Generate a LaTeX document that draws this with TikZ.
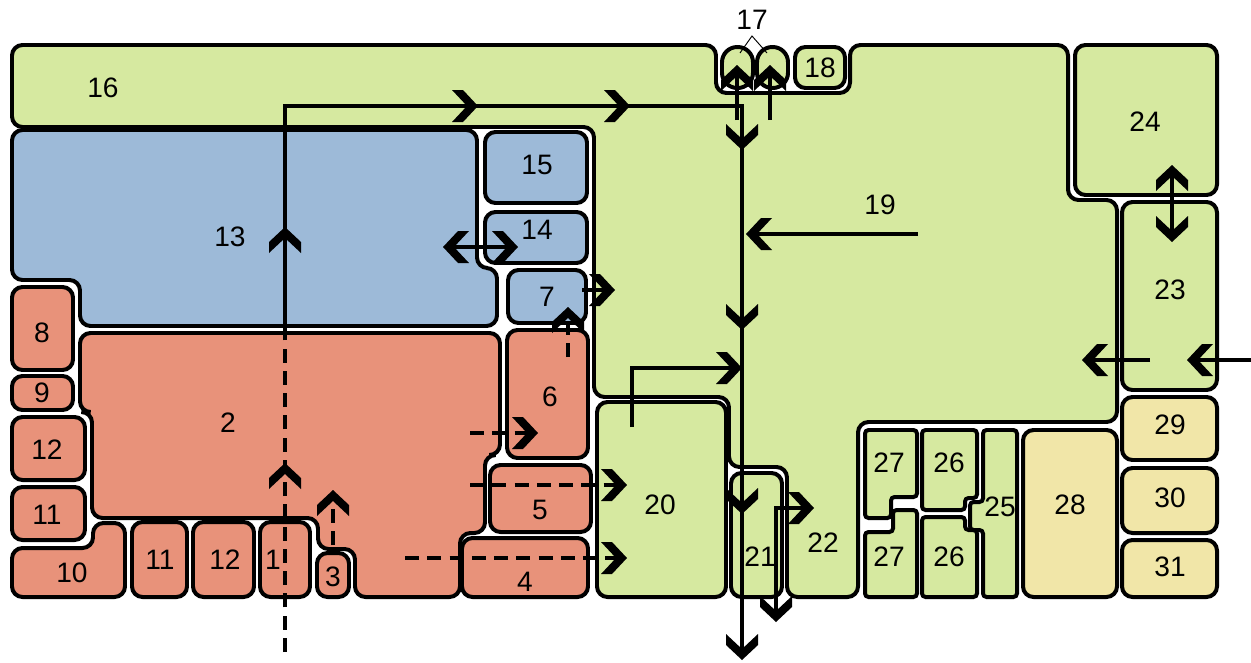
\documentclass[tikz,border=0pt]{standalone}
\usepackage{fontspec}
\setmainfont{Liberation Sans}
\usetikzlibrary{arrows.meta}
\definecolor{grn}{RGB}{214,233,160}
\definecolor{blu}{RGB}{157,186,216}
\definecolor{sal}{RGB}{232,146,122}
\definecolor{sand}{RGB}{241,230,168}
\tikzset{
  room/.style={draw=black,line width=3.4pt,rounded corners=9pt},
  flowline/.style={draw=black,line width=3pt},
  dashline/.style={flowline,dash pattern=on 12pt off 7pt},
  chev/.pic={\fill[black,line join=miter] (0,0) -- (-15,-16) -- (-26,-16) -- (-11,0) -- (-26,16) -- (-15,16) -- cycle;},
}
\begin{document}
\begin{tikzpicture}[x=0.03cm,y=-0.03cm,font=\fontsize{24}{28}\selectfont]
\useasboundingbox (0,0) rectangle (1251,662);
% green block 16, 19, 22
\draw[room,fill=grn] (12,45) -- (716,45) -- (716,93) -- (850,93) -- (850,45) -- (1068,45) -- (1068,200)
  -- (1117,200) -- (1117,422) -- (858,422) -- (858,597) -- (787,597) -- (787,467) -- (729,467)
  -- (729,397) -- (594,397) -- (594,127) -- (12,127) -- cycle;
% blue rooms
\draw[room,fill=blu] (12,130) -- (477,130) -- (477,268) -- (497,268) -- (497,326) -- (80,326) -- (80,280) -- (12,280) -- cycle;
\draw[room,fill=blu] (485,132) rectangle (587,203);
\draw[room,fill=blu] (485,212) rectangle (587,263);
\draw[room,fill=blu] (508,270) rectangle (586,323);
% salmon rooms
\draw[room,fill=sal] (80,333) -- (500,333) -- (500,455) -- (485,455) -- (485,533) -- (460,533) -- (460,597)
  -- (355,597) -- (355,549) -- (318,549) -- (318,518) -- (92,518) -- (92,412) -- (80,412) -- cycle;
\draw[room,fill=sal] (12,287) rectangle (73,370);
\draw[room,fill=sal] (12,376) rectangle (73,410);
\draw[room,fill=sal] (12,417) rectangle (85,480);
\draw[room,fill=sal] (12,487) rectangle (85,540);
\draw[room,fill=sal] (12,548) -- (93,548) -- (93,523) -- (125,523) -- (125,597) -- (12,597) -- cycle;
\draw[room,fill=sal] (132,522) rectangle (187,597);
\draw[room,fill=sal] (193,522) rectangle (254,597);
\draw[room,fill=sal] (260,522) rectangle (310,597);
\draw[room,fill=sal] (317,553) rectangle (349,597);
\draw[room,fill=sal] (462,538) rectangle (588,597);
\draw[room,fill=sal] (490,465) rectangle (591,532);
\draw[room,fill=sal] (507,330) rectangle (588,458);
% green rooms
\draw[room,fill=grn,rounded corners=13pt] (722,47) rectangle (753,88);
\draw[room,fill=grn,rounded corners=13pt] (757,47) rectangle (788,88);
\draw[room,fill=grn] (795,47) rectangle (845,88);
\draw[room,fill=grn] (597,402) rectangle (726,597);
\draw[room,fill=grn] (731,473) rectangle (782,597);
\draw[room,fill=grn] (1075,45) rectangle (1217,195);
\draw[room,fill=grn] (1122,202) rectangle (1217,390);
\draw[room,fill=grn,rounded corners=3pt] (865,430) -- (917,430) -- (917,497) -- (891,497) -- (891,518) -- (865,518) -- cycle;
\draw[room,fill=grn,rounded corners=3pt] (865,532) -- (893,532) -- (893,510) -- (917,510) -- (917,597) -- (865,597) -- cycle;
\draw[room,fill=grn,rounded corners=3pt] (922,430) -- (977,430) -- (977,498) -- (965,498) -- (965,510) -- (922,510) -- cycle;
\draw[room,fill=grn,rounded corners=3pt] (922,517) -- (965,517) -- (965,530) -- (977,530) -- (977,597) -- (922,597) -- cycle;
\draw[room,fill=grn,rounded corners=3pt] (983,430) -- (1017,430) -- (1017,597) -- (983,597) -- (983,530) -- (970,530) -- (970,502) -- (983,502) -- cycle;
% sand rooms
\draw[room,fill=sand] (1023,430) rectangle (1117,597);
\draw[room,fill=sand] (1122,397) rectangle (1217,460);
\draw[room,fill=sand] (1122,468) rectangle (1217,533);
\draw[room,fill=sand] (1122,540) rectangle (1217,597);
% labels
\node (r1) at (273,560) {1};
\node (r2) at (228,423) {2};
\node (r3) at (333,577) {3};
\node (r4) at (525,582) {4};
\node (r5) at (540,510) {5};
\node (r6) at (550,397) {6};
\node (r7) at (547,297) {7};
\node (r8) at (42,333) {8};
\node (r9) at (42,393) {9};
\node (r10) at (72,573) {10};
\node (r11a) at (47,515) {11};
\node (r11b) at (160,560) {11};
\node (r12a) at (47,450) {12};
\node (r12b) at (225,560) {12};
\node (r13) at (230,237) {13};
\node (r14) at (537,230) {14};
\node (r15) at (537,165) {15};
\node (r16) at (103,88) {16};
\node (r17) at (752,20) {17};
\node (r18) at (820,68) {18};
\node (r19) at (880,205) {19};
\node (r20) at (660,505) {20};
\node (r21) at (760,557) {21};
\node (r22) at (823,543) {22};
\node (r23) at (1170,290) {23};
\node (r24) at (1145,122) {24};
\node (r25) at (1000,507) {25};
\node (r26a) at (949,463) {26};
\node (r26b) at (949,557) {26};
\node (r27a) at (889,463) {27};
\node (r27b) at (889,557) {27};
\node (r28) at (1070,505) {28};
\node (r29) at (1170,425) {29};
\node (r30) at (1170,498) {30};
\node (r31) at (1170,567) {31};
\draw[line width=0.8pt] (740,53) -- (752,36) -- (767,53);
% flow lines
\draw[dashline] (285,652) -- (285,333);
\draw[flowline] (285,333) -- (285,106) -- (742,106) -- (742,652);
\draw[flowline] (737,120) -- (737,70);
\draw[flowline] (770,120) -- (770,70);
\draw[flowline] (918,234) -- (750,234);
\draw[flowline] (632,427) -- (632,368) -- (736,368);
\draw[flowline] (776,614) -- (776,508) -- (806,508);
\draw[flowline] (448,247) -- (513,247);
\draw[flowline] (582,290) -- (610,290);
\draw[flowline] (1172,170) -- (1172,237);
\draw[flowline] (1251,360) -- (1192,360);
\draw[flowline] (1150,360) -- (1088,360);
\draw[dashline] (568,357) -- (568,313);
\draw[dashline] (470,433) -- (532,433);
\draw[dashline] (470,485) -- (620,485);
\draw[dashline] (405,558) -- (620,558);
\draw[dashline] (333,545) -- (333,496);
% chevrons
\foreach \x/\y/\a in {285/227/90, 285/463/90, 333/490/90, 478/106/0, 630/106/0,
  742/150/270, 746/234/180, 742/330/270, 742/368/0, 742/514/270, 742/660/270, 776/622/270,
  814/508/0, 737/65/90, 770/65/90, 443/247/180, 518/247/0, 615/290/0, 568/307/90,
  538/433/0, 627/485/0, 627/558/0, 1172/165/90, 1172/242/270, 1187/360/180, 1082/360/180}
  \pic[rotate=\a] at (\x,\y) {chev};
\end{tikzpicture}
\end{document}
